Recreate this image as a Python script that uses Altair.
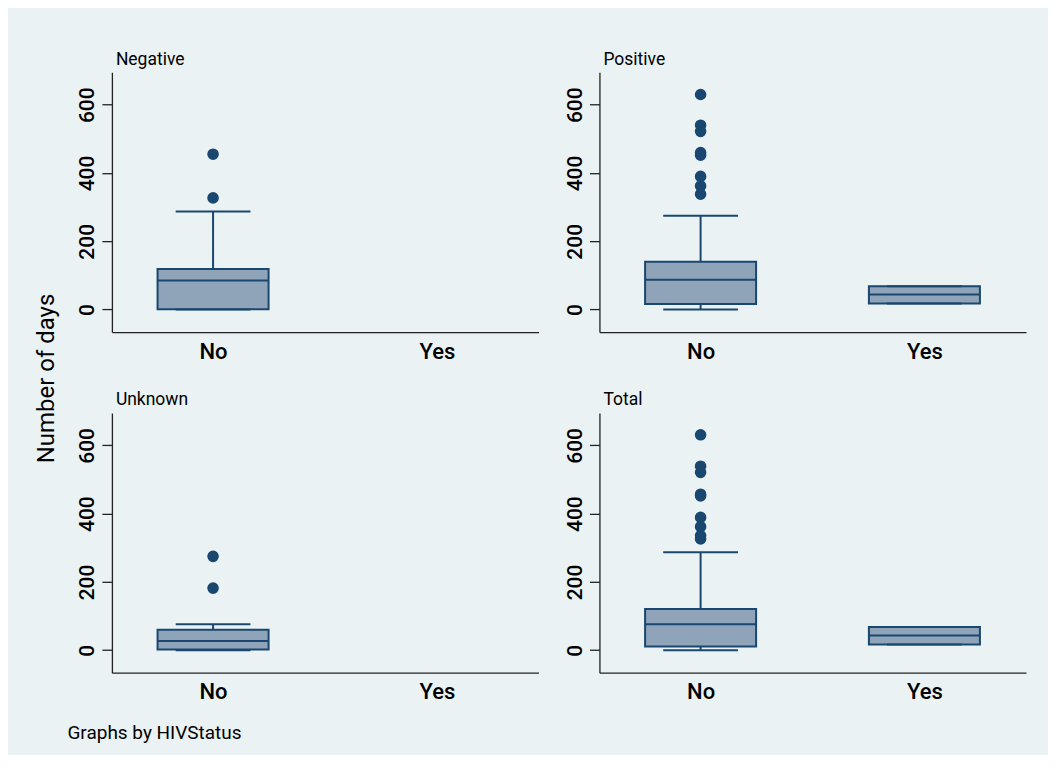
import altair as alt
import pandas as pd

# ---- data ----
panels = ["Negative", "Positive", "Unknown", "Total"]

box_group = ["Negative", "Positive", "Positive", "Unknown", "Total", "Total"]
box_cat = ["No", "No", "Yes", "No", "No", "Yes"]
box_lw = [0, 0, 18, 0, 0, 17]
box_q1 = [1, 16, 18, 2, 11, 17]
box_med = [85, 87, 44, 27, 76, 43]
box_q3 = [119, 140, 68, 60, 121, 68]
box_uw = [287, 275, 68, 76, 287, 68]

out_group = (["Negative"] * 2 + ["Positive"] * 8 + ["Unknown"] * 2 + ["Total"] * 9)
out_cat = ["No"] * 21
out_value = [455, 327,
             630, 540, 522, 460, 452, 390, 362, 338,
             275, 182,
             631, 539, 521, 457, 452, 389, 362, 336, 326]

cat_labels = ["No", "Yes"]
y_ticks = [0, 200, 400, 600]

boxes = pd.DataFrame({"group": box_group, "cat": box_cat, "lw": box_lw, "q1": box_q1,
                      "med": box_med, "q3": box_q3, "uw": box_uw})
outs = pd.DataFrame({"group": out_group, "cat": out_cat, "value": out_value})

FONT = "Roboto"
NAVY = "#1A476F"
FILL = "#8FA4B9"
BG = "#EAF2F3"
W, H = 427, 260

xscale = alt.Scale(domain=[0.548, 2.454], nice=False, zero=False)
yscale = alt.Scale(domain=[-66, 695], nice=False, zero=False)


def panel(g, ytitle=False, xtitle=False):
    yaxis_kw = dict(values=y_ticks, labelAngle=270, labelAlign="center", labelBaseline="bottom",
                    labelPadding=4, tickSize=10, labelFontSize=21, labelFontWeight=500, grid=False,
                    domainColor="#222", tickColor="#222", domainWidth=1.3, tickWidth=1.3,
                    labelColor="#000", labelFont=FONT)
    if ytitle:
        yaxis_kw.update(title="Number of days", titleAngle=270, titleAlign="center",
                        titleBaseline="middle", titleX=-65, titleY=306, titleFontSize=24,
                        titleFontWeight=400, titleFont=FONT, titleColor="#000")
    else:
        yaxis_kw.update(title=None)
    xaxis_kw = dict(values=[1, 2], labelExpr="datum.value == 1 ? 'No' : 'Yes'",
                    ticks=False, labelPadding=9, labelFontSize=22, labelFontWeight=500, grid=False,
                    domainColor="#222", domainWidth=1.3, labelColor="#000", labelFont=FONT)
    if xtitle:
        xaxis_kw.update(title="Graphs by HIVStatus", titleX=-45, titleY=60, titleAlign="left",
                        titleBaseline="middle", titleFontSize=19, titleFontWeight=400,
                        titleFont=FONT, titleColor="#000")
    else:
        xaxis_kw.update(title=None)

    bd = alt.Chart(boxes).transform_filter(alt.datum.group == g).transform_calculate(
        pos="datum.cat == 'No' ? 1 : 2",
        xlo="datum.pos - 0.248", xhi="datum.pos + 0.248",
        clo="datum.pos - 0.167", chi="datum.pos + 0.167")

    box = bd.mark_rect(fill=FILL, stroke=NAVY, strokeWidth=2).encode(
        x=alt.X("xlo:Q", scale=xscale, axis=alt.Axis(**xaxis_kw)), x2="xhi:Q",
        y=alt.Y("q1:Q", scale=yscale, axis=alt.Axis(**yaxis_kw)), y2="q3:Q")
    med = bd.mark_rule(color=NAVY, strokeWidth=2).encode(
        x=alt.X("xlo:Q", scale=xscale), x2="xhi:Q", y=alt.Y("med:Q", scale=yscale))
    wh_hi = bd.mark_rule(color=NAVY, strokeWidth=2).encode(
        x=alt.X("pos:Q", scale=xscale), y=alt.Y("q3:Q", scale=yscale), y2="uw:Q")
    wh_lo = bd.mark_rule(color=NAVY, strokeWidth=2).encode(
        x=alt.X("pos:Q", scale=xscale), y=alt.Y("lw:Q", scale=yscale), y2="q1:Q")
    cap_hi = bd.mark_rule(color=NAVY, strokeWidth=2).encode(
        x=alt.X("clo:Q", scale=xscale), x2="chi:Q", y=alt.Y("uw:Q", scale=yscale))
    cap_lo = bd.mark_rule(color=NAVY, strokeWidth=2).encode(
        x=alt.X("clo:Q", scale=xscale), x2="chi:Q", y=alt.Y("lw:Q", scale=yscale))
    pts = alt.Chart(outs).transform_filter(alt.datum.group == g).transform_calculate(
        pos="datum.cat == 'No' ? 1 : 2").mark_circle(color=NAVY, opacity=1, size=135).encode(
        x=alt.X("pos:Q", scale=xscale), y=alt.Y("value:Q", scale=yscale))

    return alt.layer(box, wh_hi, wh_lo, cap_hi, cap_lo, med, pts).properties(
        width=W, height=H,
        title=alt.TitleParams(g, anchor="start", frame="group", fontSize=17.5, fontWeight=400,
                              font=FONT, color="#000", baseline="alphabetic", offset=-10, dx=4))


chart = alt.concat(
    panel("Negative", ytitle=True), panel("Positive"),
    panel("Unknown", xtitle=True), panel("Total"),
    columns=2, spacing={"row": 81, "column": 61}, bounds="flush"
).properties(
    background=BG,
    padding={"left": 27, "top": 42, "right": 22, "bottom": 12},
).configure_view(stroke=None)

chart.save("out.html", embed_options={"renderer": "svg", "actions": False})
